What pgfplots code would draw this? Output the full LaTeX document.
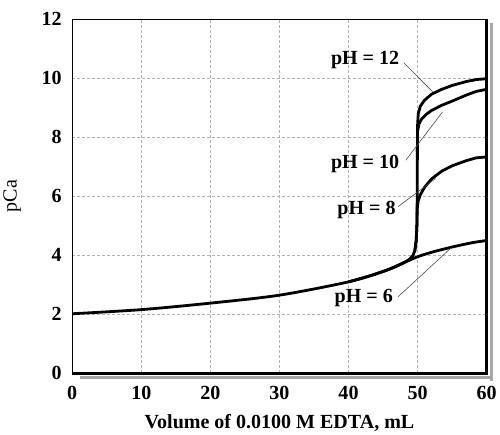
\documentclass[border=0pt]{standalone}
\usepackage{pgfplots}
\pgfplotsset{compat=1.18}
\usepackage{fontspec}
\setmainfont{Liberation Serif}

\begin{document}
\begin{tikzpicture}
\begin{axis}[
  scale only axis,
  width=414pt, height=354pt,
  xmin=0, xmax=60, ymin=0, ymax=12,
  xtick={0,10,...,60}, ytick={0,2,...,12},
  grid=major, grid style={gray!60, densely dashed, line width=0.5pt},
  axis line style={black, line width=0.8pt},
  tick style={draw=none},
  font=\fontsize{20}{22}\selectfont,
  tick label style={font=\fontsize{20}{22}\selectfont\bfseries},
  xticklabel style={yshift=-9pt},
  yticklabel style={xshift=-7pt},
  /pgf/number format/assume math mode=true,
  xlabel={\bfseries Volume of 0.0100 M EDTA, mL},
  ylabel={pCa},
  label style={font=\fontsize{20}{22}\selectfont},
  xlabel style={at={(axis description cs:0.5,-0.14)}, anchor=center},
  ylabel style={at={(axis description cs:-0.145,0.5)}, anchor=center},
  clip=false,
]
% keep white space above the frame
\path (rel axis cs:0,1) ++(0,19pt) coordinate (topspace);
% frame shadow on right and bottom
\draw[gray!70, line width=3pt] (rel axis cs:1.012,-0.02) -- (rel axis cs:1.012,0.99);
\draw[gray!70, line width=3pt] (rel axis cs:0.02,-0.012) -- (rel axis cs:1.01,-0.012);
\draw[black, line width=2.5pt] (rel axis cs:1,-0.003) -- (rel axis cs:1,1);
\draw[black, line width=2.5pt] (rel axis cs:0,0) -- (rel axis cs:1.003,0);

% pH = 6
\addplot[black, line width=2.8pt, smooth] coordinates {
  (0,2.02)(10,2.16)(20,2.38)(30,2.65)(40,3.1)(45,3.45)(48,3.75)
  (50,3.95)(52,4.1)(55,4.28)(58,4.43)(60,4.5)};
% pH = 8
\addplot[black, line width=2.8pt] coordinates {
  (40,3.1)(43,3.3)(45,3.45)(46.5,3.58)(47.8,3.72)(48.7,3.84)(49.3,3.98)
  (49.6,4.15)(49.8,4.5)(49.9,5.0)(49.95,5.6)(50.1,5.85)(50.4,6.05)
  (51,6.3)(52,6.58)(53.5,6.85)(55,7.03)(57,7.2)(58.5,7.3)(60,7.33)};
% pH = 10
\addplot[black, line width=2.8pt] coordinates {
  (49.6,4.15)(49.8,4.5)(49.9,5.0)(49.95,6.0)(49.97,7.5)(50.0,8.2)
  (50.2,8.45)(50.6,8.62)(51.3,8.78)(52,8.9)(53.5,9.08)(55,9.22)
  (57,9.42)(58.5,9.55)(60,9.62)};
% pH = 12
\addplot[black, line width=2.8pt] coordinates {
  (49.97,7.5)(50.0,8.4)(50.1,8.8)(50.4,9.05)(51,9.25)(52,9.45)
  (53.5,9.62)(55,9.75)(57,9.88)(58.5,9.95)(60,9.98)};

% labels with leader lines
\draw[black!70, line width=0.6pt] (axis cs:48,10.52) -- (axis cs:52.2,9.53);
\node[font=\fontsize{20}{22}\selectfont\bfseries] at (axis cs:42.4,10.6) {pH = 12};
\draw[black!70, line width=0.6pt] (axis cs:48.3,7.22) -- (axis cs:53.6,8.85);
\node[font=\fontsize{20}{22}\selectfont\bfseries] at (axis cs:42.4,7.1) {pH = 10};
\draw[black!70, line width=0.6pt] (axis cs:47.2,5.65) -- (axis cs:52.6,6.6);
\node[font=\fontsize{20}{22}\selectfont\bfseries] at (axis cs:42.6,5.55) {pH = 8};
\draw[black!70, line width=0.6pt] (axis cs:47.2,2.6) -- (axis cs:54.8,4.24);
\node[font=\fontsize{20}{22}\selectfont\bfseries] at (axis cs:42.2,2.55) {pH = 6};
\end{axis}
\end{tikzpicture}
\end{document}
